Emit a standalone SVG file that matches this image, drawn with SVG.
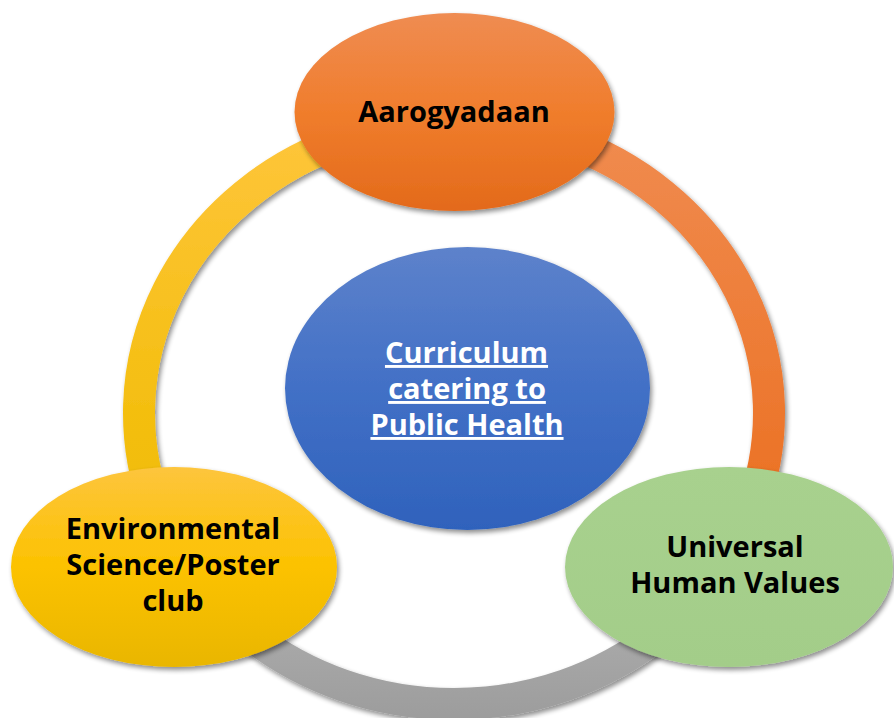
<svg xmlns="http://www.w3.org/2000/svg" width="894" height="722" viewBox="0 0 894 722">
  <defs>
    <filter id="shadow" x="-20%" y="-20%" width="140%" height="140%">
      <feGaussianBlur in="SourceAlpha" stdDeviation="2.5"/>
      <feOffset dx="2" dy="3" result="b"/>
      <feComponentTransfer><feFuncA type="linear" slope="0.45"/></feComponentTransfer>
      <feMerge><feMergeNode/><feMergeNode in="SourceGraphic"/></feMerge>
    </filter>
    <linearGradient id="gOrange" x1="0" y1="0" x2="0" y2="1">
      <stop offset="0" stop-color="#ef8c52"/>
      <stop offset="0.5" stop-color="#f07d2c"/>
      <stop offset="1" stop-color="#e36a1b"/>
    </linearGradient>
    <linearGradient id="gBlue" x1="0" y1="0" x2="0" y2="1">
      <stop offset="0" stop-color="#5d82cb"/>
      <stop offset="0.5" stop-color="#4270c6"/>
      <stop offset="1" stop-color="#2f62bc"/>
    </linearGradient>
    <linearGradient id="gYellow" x1="0" y1="0" x2="0" y2="1">
      <stop offset="0" stop-color="#fdc53d"/>
      <stop offset="0.5" stop-color="#fcc200"/>
      <stop offset="1" stop-color="#e9b600"/>
    </linearGradient>
    <linearGradient id="gGreen" x1="0" y1="0" x2="0" y2="1">
      <stop offset="0" stop-color="#a8d18e"/>
      <stop offset="1" stop-color="#a3cd89"/>
    </linearGradient>
    <linearGradient id="gRingY" gradientUnits="userSpaceOnUse" x1="0" y1="130" x2="0" y2="520">
      <stop offset="0" stop-color="#fec53a"/>
      <stop offset="1" stop-color="#f0bc00"/>
    </linearGradient>
    <linearGradient id="gRingO" gradientUnits="userSpaceOnUse" x1="0" y1="130" x2="0" y2="520">
      <stop offset="0" stop-color="#f08b4f"/>
      <stop offset="1" stop-color="#eb7022"/>
    </linearGradient>
    <linearGradient id="gRingG" gradientUnits="userSpaceOnUse" x1="0" y1="620" x2="0" y2="722">
      <stop offset="0" stop-color="#ababab"/>
      <stop offset="1" stop-color="#9c9c9c"/>
    </linearGradient>
    <style>
      .ring { fill: none; stroke-width: 32; filter: url(#shadow); }
      .node { filter: url(#shadow); }
      .lbl { font-family: "Open Sans", "Liberation Sans", sans-serif; font-weight: bold; font-size: 29px; text-anchor: middle; fill: #000000; }
      .ctr { fill: #ffffff; text-decoration: underline; }
    </style>
  </defs>

  <rect x="0" y="0" width="894" height="722" fill="#ffffff"/>

  <g id="connectors">
    <path class="ring" stroke="url(#gRingY)" d="M158,512.5 A315,291 0 0 1 346.3,139.5"/>
    <path class="ring" stroke="url(#gRingO)" d="M561.7,139.5 A315,291 0 0 1 750,512.5"/>
    <path class="ring" stroke="url(#gRingG)" d="M656.5,635.9 A315,291 0 0 1 251.5,635.9"/>
  </g>

  <g id="node-center">
    <ellipse class="node" cx="467.5" cy="388.5" rx="182.5" ry="141.5" fill="url(#gBlue)"/>
    <text class="lbl ctr" x="466.5" y="363">Curriculum</text>
    <text class="lbl ctr" x="467" y="399">catering to</text>
    <text class="lbl ctr" x="467" y="435">Public Health</text>
  </g>

  <g id="node-aarogyadaan">
    <ellipse class="node" cx="454.5" cy="112" rx="160" ry="99" fill="url(#gOrange)"/>
    <text class="lbl" x="454" y="122">Aarogyadaan</text>
  </g>

  <g id="node-environmental">
    <ellipse class="node" cx="174" cy="567" rx="163" ry="100" fill="url(#gYellow)"/>
    <text class="lbl" x="173" y="539">Environmental</text>
    <text class="lbl" x="173" y="575">Science/Poster</text>
    <text class="lbl" x="173" y="611">club</text>
  </g>

  <g id="node-uhv">
    <ellipse class="node" cx="729" cy="567" rx="164" ry="100" fill="url(#gGreen)"/>
    <text class="lbl" x="735" y="557">Universal</text>
    <text class="lbl" x="735" y="593">Human Values</text>
  </g>
</svg>
